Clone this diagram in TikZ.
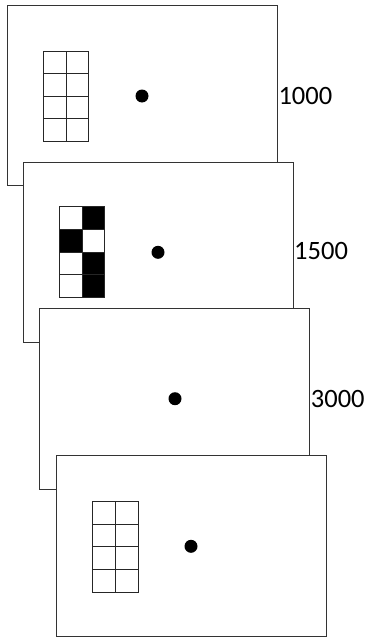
\documentclass[tikz,border=0pt]{standalone}
\usepackage{fontspec}
\setmainfont{Carlito}
\begin{document}
\begin{tikzpicture}[x=1pt,y=-1pt,
  frame/.style={draw=black!80,line width=1pt,fill=white},
  cell/.style={draw=black!85,line width=1pt},
  dot/.style={circle,fill=black,inner sep=0pt,minimum size=13pt},
  lbl/.style={anchor=west,inner sep=0pt,font=\fontsize{26.5}{30}\selectfont}]
\useasboundingbox (0,0) rectangle (371,637);
% frame 1
\draw[frame] (7.3,5.7) rectangle (277.3,185.7);
\coordinate (f1) at (277.3,96);
\node[dot] (d1) at (142,96) {};
\node[lbl] (t1) at ([xshift=1pt]f1) {1000};
\foreach \c in {0,1} \foreach \r in {0,...,3}
  \draw[cell] ({43.7+\c*22.3},{51+\r*22.5}) rectangle ++(22.3,22.5);
% frame 2
\draw[frame] (23.7,162.3) rectangle (293,342.7);
\coordinate (f2) at (293,250.5);
\node[dot] (d2) at (158,252.3) {};
\node[lbl] (t2) at ([xshift=1pt]f2) {1500};
\foreach \c/\r/\f in {0/0/white,1/0/black,0/1/black,1/1/white,0/2/white,1/2/black,0/3/white,1/3/black}
  \draw[cell,fill=\f] ({59.3+\c*22.7},{206.7+\r*22.75}) rectangle ++(22.7,22.75);
% frame 3
\draw[frame] (39.3,308.3) rectangle (309.7,489.7);
\coordinate (f3) at (309.7,399);
\node[dot] (d3) at (175,398.7) {};
\node[lbl] (t3) at ([xshift=1pt]f3) {3000};
% frame 4
\draw[frame] (56,455.7) rectangle (326.3,636.5);
\node[dot] (d4) at (191,546.3) {};
\foreach \c in {0,1} \foreach \r in {0,...,3}
  \draw[cell] ({92.7+\c*22.8},{501.3+\r*22.7}) rectangle ++(22.8,22.7);
\end{tikzpicture}
\end{document}
